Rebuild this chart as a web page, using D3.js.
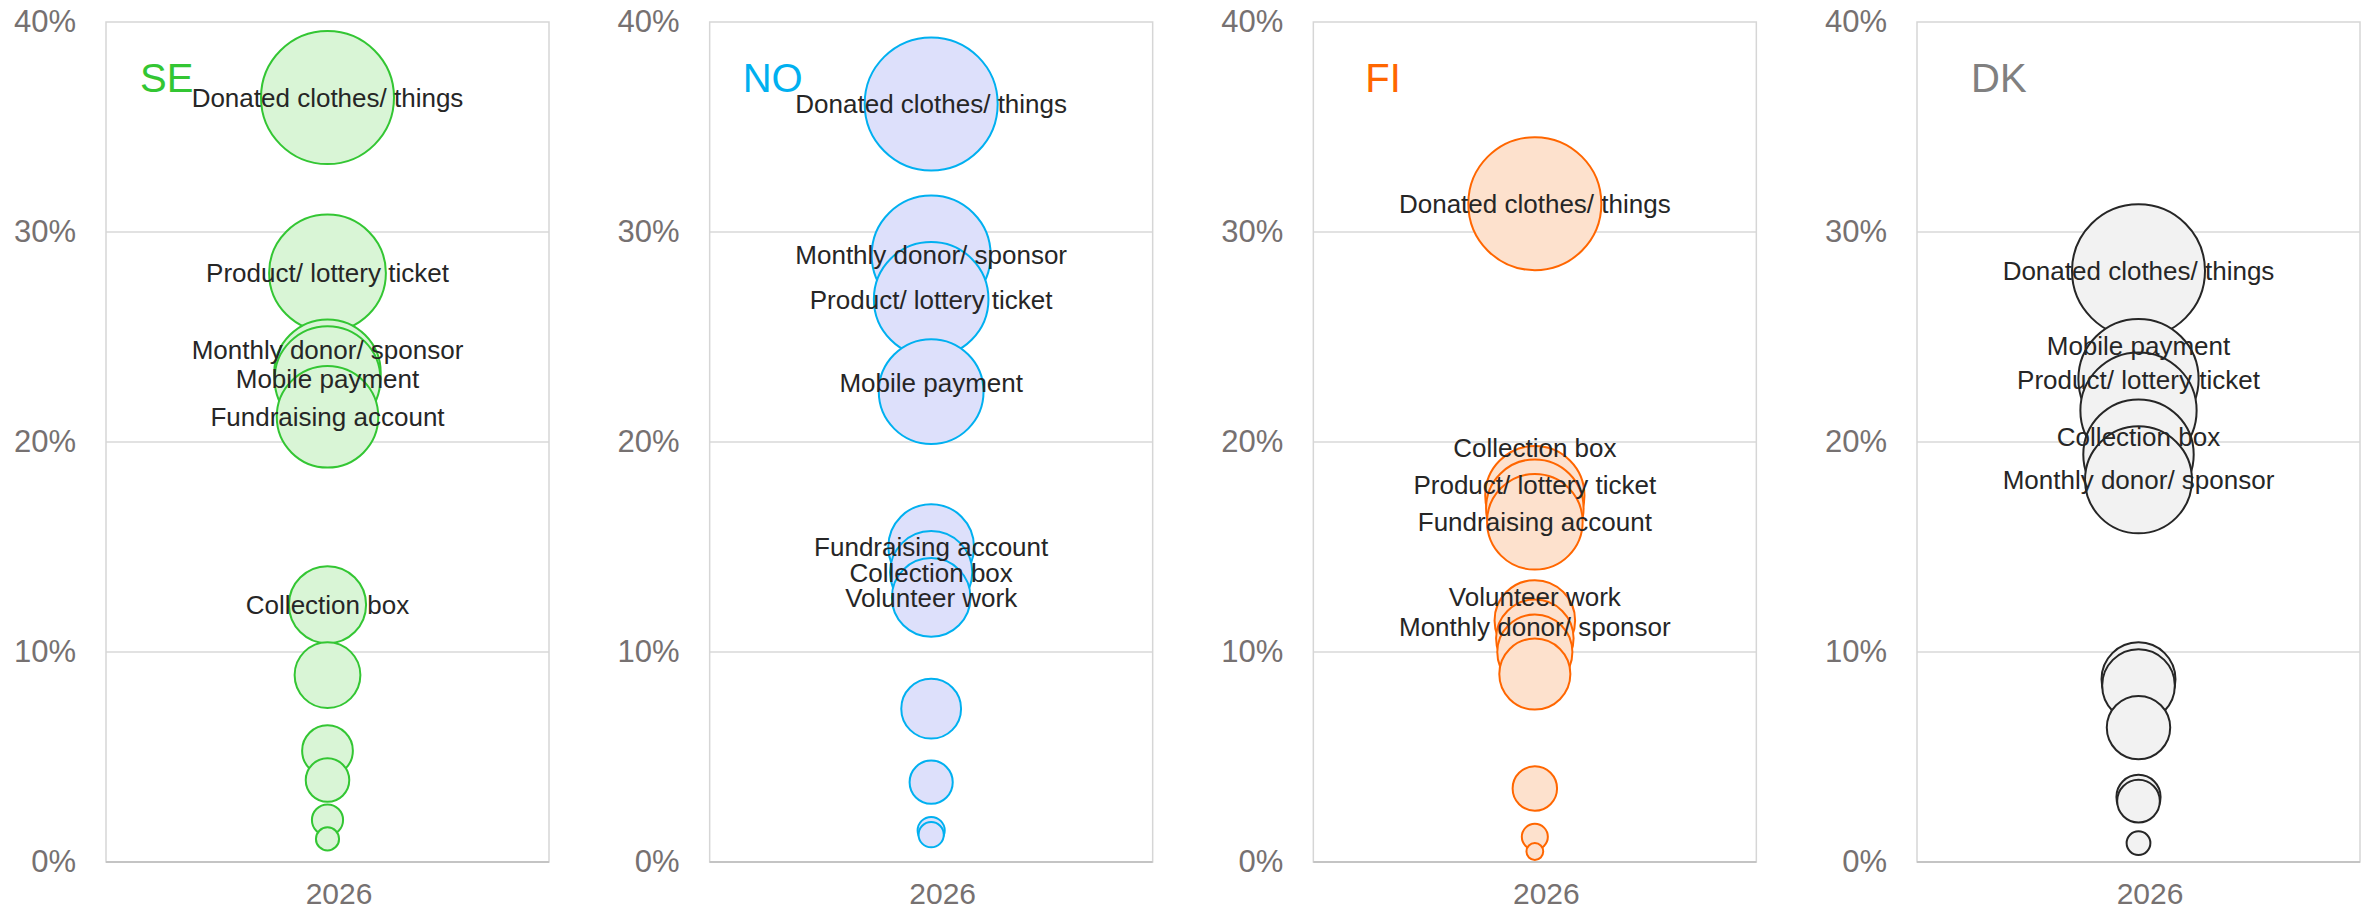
<!DOCTYPE html>
<html>
<head>
<meta charset="utf-8">
<script src="https://cdn.jsdelivr.net/npm/d3@7"></script>
<style>
  html, body { margin: 0; padding: 0; background: #ffffff; }
  svg { display: block; font-family: "Liberation Sans", Arial, sans-serif; }
</style>
</head>
<body>
<svg id="chart" width="2369" height="914"></svg>
<script>
// ---------------- DATA ----------------
const countries = ["SE", "NO", "FI", "DK"];
const xCategory = "2026";
const yTicks = [0, 10, 20, 30, 40];

const seValues = [36.4, 28.05, 23.3, 23.0, 21.2, 12.25, 8.9, 5.3, 3.9, 2.0, 1.1];
const seLabels = ["Donated clothes/ things", "Product/ lottery ticket", "Monthly donor/ sponsor", "Mobile payment", "Fundraising account", "Collection box", "", "", "", "", ""];
const seLabelShift = [0, 0, 1.1, 0, 0, 0, 0, 0, 0, 0, 0];

const noValues = [36.1, 28.9, 26.8, 22.4, 15.0, 13.8, 12.6, 7.3, 3.8, 1.5, 1.3];
const noLabels = ["Donated clothes/ things", "Monthly donor/ sponsor", "Product/ lottery ticket", "Mobile payment", "Fundraising account", "Collection box", "Volunteer work", "", "", "", ""];
const noLabelShift = [0, 0, 0, 0.45, 0, 0, 0, 0, 0, 0, 0];

const fiValues = [31.35, 17.45, 16.85, 16.2, 11.5, 10.65, 10.0, 8.95, 3.5, 1.2, 0.5];
const fiLabels = ["Donated clothes/ things", "Collection box", "Product/ lottery ticket", "Fundraising account", "Volunteer work", "Monthly donor/ sponsor", "", "", "", "", ""];
const fiLabelShift = [0, 2.3, 1.1, 0, 1.15, 0.55, 0, 0, 0, 0, 0];

const dkValues = [28.15, 23.0, 21.5, 19.4, 18.2, 8.7, 8.4, 6.4, 3.1, 2.9, 0.9];
const dkLabels = ["Donated clothes/ things", "Mobile payment", "Product/ lottery ticket", "Collection box", "Monthly donor/ sponsor", "", "", "", "", "", ""];
const dkLabelShift = [0, 1.6, 1.45, 0.85, 0, 0, 0, 0, 0, 0, 0];

// ---------------- STYLE ----------------
const panelData = [
  { values: seValues, labels: seLabels, shift: seLabelShift },
  { values: noValues, labels: noLabels, shift: noLabelShift },
  { values: fiValues, labels: fiLabels, shift: fiLabelShift },
  { values: dkValues, labels: dkLabels, shift: dkLabelShift }
];
const styles = [
  { stroke: "#33c633", fill: "#d9f5d6", title: "#33c633", titleDx: 34 },
  { stroke: "#00b0f0", fill: "#dde0fb", title: "#00b0f0", titleDx: 33 },
  { stroke: "#ff6600", fill: "#fde1cd", title: "#ff6600", titleDx: 52 },
  { stroke: "#262626", fill: "#f2f2f2", title: "#808080", titleDx: 54 }
];

const svg = d3.select("#chart");
const plotTop = 22, plotBottom = 862, plotW = 443;
const panelScale = d3.scaleLinear().domain([0, 3]).range([106, 1917]);
const y = d3.scaleLinear().domain([0, 40]).range([plotBottom, plotTop]);
const maxR = 66.5;

countries.forEach((c, i) => {
  const left = panelScale(i);
  const x = d3.scaleLinear().domain([0, 2]).range([left, left + plotW]);
  const d = panelData[i];
  const st = styles[i];
  const r = d3.scaleSqrt().domain([0, d3.max(d.values)]).range([0, maxR]);
  const g = svg.append("g");

  // gridlines
  g.selectAll("line.grid").data(yTicks.filter(t => t > 0 && t < 40)).join("line")
    .attr("class", "grid")
    .attr("x1", left).attr("x2", left + plotW)
    .attr("y1", t => y(t)).attr("y2", t => y(t))
    .attr("stroke", "#d9d9d9").attr("stroke-width", 1.5);
  // plot border
  g.append("rect").attr("x", left).attr("y", plotTop).attr("width", plotW).attr("height", plotBottom - plotTop)
    .attr("fill", "none").attr("stroke", "#d6d6d6").attr("stroke-width", 1.5);
  g.append("line").attr("x1", left).attr("x2", left + plotW).attr("y1", plotBottom).attr("y2", plotBottom)
    .attr("stroke", "#c4c4c4").attr("stroke-width", 2);

  // y axis
  const ya = g.append("g").attr("transform", `translate(${left},0)`)
    .call(d3.axisLeft(y).tickValues(yTicks).tickFormat(t => t + "%").tickSize(0).tickPadding(30));
  ya.select(".domain").remove();
  ya.selectAll("text").attr("font-size", 31).attr("fill", "#767171")
    .attr("font-family", "'Liberation Sans', Arial, sans-serif");

  // x axis
  const xa = g.append("g").attr("transform", `translate(0,${plotBottom})`)
    .call(d3.axisBottom(x).tickValues([1]).tickFormat(() => xCategory).tickSize(0).tickPadding(21));
  xa.select(".domain").remove();
  xa.selectAll("text").attr("font-size", 30).attr("fill", "#767171").attr("dx", 11)
    .attr("font-family", "'Liberation Sans', Arial, sans-serif");

  // bubbles (largest first)
  const pts = d.values.map((v, k) => ({ v, label: d.labels[k], shift: d.shift[k] }));
  const sorted = pts.slice().sort((a, b) => b.v - a.v);
  g.selectAll("circle").data(sorted).join("circle")
    .attr("cx", x(1)).attr("cy", p => y(p.v)).attr("r", p => r(p.v))
    .attr("fill", st.fill).attr("stroke", st.stroke).attr("stroke-width", 2);

  // data labels
  g.selectAll("text.lbl").data(pts.filter(p => p.label)).join("text")
    .attr("class", "lbl")
    .attr("x", x(1)).attr("y", p => y(p.v + p.shift)).attr("dy", "0.36em")
    .attr("text-anchor", "middle").attr("font-size", 26).attr("fill", "#262626")
    .text(p => p.label);

  // country title
  g.append("text").attr("x", left + st.titleDx).attr("y", 92)
    .attr("font-size", 40).attr("fill", st.title).text(c);
});
</script>
</body>
</html>
